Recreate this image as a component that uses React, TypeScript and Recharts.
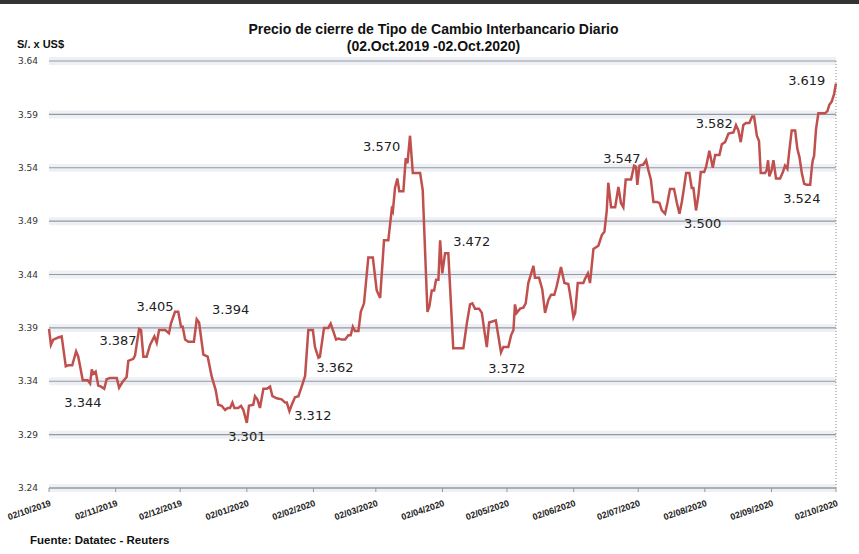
import React from 'react'
import {
  LineChart,
  Line,
  XAxis,
  YAxis,
  CartesianGrid,
  ReferenceLine,
  ReferenceDot,
} from 'recharts'

// ─── Data ────────────────────────────────────────────────────────────────────

// days counted from 02/10/2019
const days = [
  0, 0.9, 2, 4.3, 5.9, 7.8, 9, 10.8, 12.6, 13.6, 15.7, 18, 19.1, 19.9, 20.6, 21.7, 22.9, 24.2, 25.7, 26.8,
  28.4, 31.5, 32.6, 34.1, 36.1, 36.9, 39.2, 40, 41.9, 42.8, 43.9, 45.4, 47, 49, 50.1, 51.2, 54, 55.8, 56.7, 58.6,
  60.1, 61.4, 62.2, 63.3, 64.8, 67.4, 68.7, 69.8, 71.8, 73.8, 75.7, 77.5, 78.7, 80.3, 81.9, 83.1, 84.2, 85.3, 86.2, 88,
  89.3, 90.4, 92, 93, 95, 95.8, 96.9, 98.1, 99.7, 101.3, 102.8, 103.9, 105.9, 108.2, 109.8, 110.6, 111.8, 112.9, 114.4, 116,
  117.5, 119.1, 120.6, 122.7, 123.7, 125.3, 126, 127.9, 129.9, 131, 132.2, 133.5, 134.6, 136.1, 137.7, 139.2, 140.3, 141.3, 142.3, 143.9,
  145, 146.5, 148.5, 150.6, 152.4, 154, 155.8, 157.8, 159.4, 159.9, 160.9, 162, 162.9, 164.8, 165.9, 166.7, 167.9, 169.2, 172.6, 173.8,
  176, 176.9, 178, 179.1, 180, 181.1, 181.9, 182.9, 184.2, 185.7, 188, 192.7, 194.3, 195.8, 196.9, 198.1, 200, 201.3, 202.5, 203.6,
  204.7, 206.2, 207.8, 209, 210.2, 211.3, 213.6, 214.9, 216, 216.7, 217.5, 219.1, 220.6, 221.7, 222.9, 225.3, 226, 227.9, 229.4, 230.7,
  232.2, 233.5, 235, 236.1, 238.1, 239.7, 241.5, 242.3, 243.9, 244.7, 245.9, 248.5, 249.3, 250.6, 251.6, 252.1, 253.2, 255.5, 257.1, 258.3,
  259.4, 260.1, 261.4, 263.3, 264.8, 266, 267.1, 268.2, 270.7, 272.1, 273, 273.6, 274.6, 276.4, 277.7, 278.7, 279.9, 281.1, 282.7, 283.9,
  285, 286.5, 287.6, 288.8, 290.7, 292, 293.2, 294.3, 295.3, 296.3, 297.8, 298.9, 299.7, 300.9, 302, 303.1, 304.7, 305.6, 307.1, 308.7,
  309.8, 311.8, 312.9, 314.4, 316, 318.3, 319.5, 320.6, 321.7, 322.9, 324.2, 325.7, 327, 327.9, 329.2, 330.2, 331, 333, 333.8, 334.4,
  335, 336.1, 336.9, 338.1, 340, 341.3, 342.3, 343.4, 344.3, 345.4, 347, 348, 349, 350.1, 351.2, 352.4, 354, 354.8, 355.2, 355.8,
  356.7, 357.8, 359.4, 360.9, 362, 362.9, 364, 365.1, 366,
]

const rates = [
  3.389, 3.374, 3.379, 3.381, 3.382, 3.354, 3.355, 3.355, 3.368, 3.363, 3.341, 3.341, 3.338, 3.351, 3.347, 3.349, 3.336, 3.335, 3.333, 3.342,
  3.343, 3.343, 3.334, 3.339, 3.344, 3.359, 3.361, 3.364, 3.389, 3.388, 3.363, 3.363, 3.374, 3.382, 3.376, 3.388, 3.388, 3.385, 3.394, 3.405,
  3.405, 3.391, 3.391, 3.379, 3.377, 3.377, 3.398, 3.395, 3.365, 3.363, 3.344, 3.332, 3.318, 3.317, 3.313, 3.315, 3.315, 3.32, 3.315, 3.315,
  3.317, 3.313, 3.301, 3.317, 3.318, 3.326, 3.323, 3.315, 3.333, 3.333, 3.335, 3.326, 3.324, 3.323, 3.32, 3.32, 3.312, 3.318, 3.325, 3.326,
  3.335, 3.345, 3.388, 3.388, 3.372, 3.362, 3.363, 3.39, 3.39, 3.394, 3.387, 3.379, 3.38, 3.379, 3.379, 3.383, 3.383, 3.391, 3.387, 3.387,
  3.405, 3.413, 3.456, 3.456, 3.425, 3.418, 3.472, 3.472, 3.501, 3.499, 3.521, 3.53, 3.518, 3.518, 3.549, 3.544, 3.57, 3.535, 3.535, 3.519,
  3.405, 3.41, 3.425, 3.425, 3.435, 3.435, 3.472, 3.441, 3.46, 3.46, 3.371, 3.371, 3.394, 3.412, 3.413, 3.408, 3.408, 3.404, 3.387, 3.372,
  3.395, 3.396, 3.397, 3.382, 3.367, 3.372, 3.372, 3.383, 3.388, 3.412, 3.404, 3.408, 3.409, 3.413, 3.432, 3.448, 3.437, 3.437, 3.426, 3.404,
  3.416, 3.421, 3.421, 3.429, 3.447, 3.432, 3.431, 3.422, 3.4, 3.404, 3.432, 3.432, 3.436, 3.441, 3.432, 3.442, 3.464, 3.467, 3.477, 3.48,
  3.5, 3.526, 3.503, 3.503, 3.522, 3.507, 3.503, 3.529, 3.529, 3.542, 3.541, 3.524, 3.542, 3.543, 3.547, 3.538, 3.529, 3.508, 3.508, 3.507,
  3.5, 3.497, 3.507, 3.52, 3.52, 3.507, 3.497, 3.508, 3.521, 3.535, 3.535, 3.521, 3.521, 3.5, 3.514, 3.536, 3.536, 3.541, 3.556, 3.54,
  3.552, 3.552, 3.562, 3.564, 3.572, 3.573, 3.58, 3.575, 3.564, 3.58, 3.582, 3.582, 3.588, 3.588, 3.57, 3.565, 3.535, 3.535, 3.538, 3.547,
  3.532, 3.538, 3.547, 3.53, 3.53, 3.536, 3.542, 3.539, 3.556, 3.575, 3.575, 3.558, 3.55, 3.535, 3.525, 3.524, 3.524, 3.541, 3.547, 3.551,
  3.576, 3.591, 3.591, 3.591, 3.593, 3.599, 3.602, 3.609, 3.619,
]

const tickDays = [0, 31, 61, 92, 123, 152, 183, 213, 244, 274, 305, 336, 366]
const tickLabels = [
  '02/10/2019', '02/11/2019', '02/12/2019', '02/01/2020', '02/02/2020', '02/03/2020', '02/04/2020',
  '02/05/2020', '02/06/2020', '02/07/2020', '02/08/2020', '02/09/2020', '02/10/2020',
]
const yTicks = [3.24, 3.29, 3.34, 3.39, 3.44, 3.49, 3.54, 3.59, 3.64]

// callouts: text and where it sits (day, rate)
const noteText = ['3.344', '3.387', '3.405', '3.394', '3.301', '3.312', '3.362', '3.570', '3.472', '3.372', '3.547', '3.500', '3.582', '3.524', '3.619']
const noteDay = [15.8, 32.1, 49.3, 84.5, 92, 122.7, 133, 154.7, 196.6, 212.9, 266.4, 304, 309.4, 350.1, 352.4]
const noteRate = [3.32, 3.378, 3.41, 3.407, 3.288, 3.308, 3.353, 3.56, 3.471, 3.352, 3.549, 3.488, 3.582, 3.511, 3.622]

const data = days.map((d, i) => ({ day: d, rate: rates[i] }))

// ─── Ticks ───────────────────────────────────────────────────────────────────

function DateTick({ x, y, payload }: { x?: number; y?: number; payload?: { value: number } }) {
  const idx = tickDays.indexOf(payload?.value ?? -1)
  return (
    <g transform={`translate(${x},${(y ?? 0) + 4})`}>
      <text
        x={0}
        y={0}
        dy={8}
        textAnchor="end"
        transform="rotate(-19)"
        fontSize={9}
        fontWeight="bold"
        fontFamily="'Liberation Sans', Arial, sans-serif"
        fill="#222"
      >
        {tickLabels[idx]}
      </text>
    </g>
  )
}

// ─── Chart ───────────────────────────────────────────────────────────────────

export default function App() {
  return (
    <div
      style={{
        position: 'absolute',
        left: 0,
        top: 0,
        width: 859,
        height: 554,
        background: '#fff',
        overflow: 'hidden',
        fontFamily: "'Liberation Sans', Arial, sans-serif",
      }}
    >
      <div style={{ position: 'absolute', left: 0, top: 0, width: 859, height: 4, background: '#333' }} />
      <div
        style={{
          position: 'absolute',
          left: 0,
          width: 859,
          top: 21,
          textAlign: 'center',
          fontWeight: 'bold',
          fontSize: 14,
          lineHeight: '17px',
          color: '#111',
          paddingLeft: 4,
        }}
      >
        Precio de cierre de Tipo de Cambio Interbancario Diario
        <br />
        (02.Oct.2019 -02.Oct.2020)
      </div>
      <div style={{ position: 'absolute', left: 17, top: 38, fontWeight: 'bold', fontSize: 11, color: '#111' }}>
        S/. x US$
      </div>
      <div style={{ position: 'absolute', left: 30, top: 534, fontWeight: 'bold', fontSize: 11.5, color: '#111' }}>
        Fuente: Datatec - Reuters
      </div>

      <div style={{ position: 'absolute', left: 0, top: 0 }}>
        <LineChart width={859} height={554} data={data} margin={{ top: 61, right: 23, bottom: 26, left: 9 }}>
          <CartesianGrid vertical={false} stroke="#edf0f6" strokeWidth={8} />
          <CartesianGrid vertical={false} stroke="#999" strokeWidth={1.2} />
          <XAxis
            type="number"
            dataKey="day"
            domain={[0, 366]}
            ticks={tickDays}
            interval={0}
            height={40}
            stroke="#999"
            tickSize={4}
            tick={<DateTick />}
          />
          <YAxis
            type="number"
            domain={[3.24, 3.64]}
            ticks={yTicks}
            width={40}
            axisLine={false}
            tickLine={false}
            tickSize={0}
            tickMargin={11}
            tickFormatter={(v: number) => v.toFixed(2)}
            tick={{ fontSize: 9, fill: '#333', fontFamily: "'DejaVu Sans', sans-serif" }}
          />
          <ReferenceLine x={366} stroke="#888" strokeDasharray="1 2" />
          <Line
            type="linear"
            dataKey="rate"
            stroke="#C0504D"
            strokeWidth={2.5}
            dot={false}
            isAnimationActive={false}
          />
          {noteText.map((t, i) => (
            <ReferenceDot
              key={t}
              x={noteDay[i]}
              y={noteRate[i]}
              r={0}
              fill="none"
              stroke="none"
              label={{
                value: t,
                position: 'center',
                fill: '#222',
                fontSize: 13,
                fontFamily: "'DejaVu Sans', sans-serif",
              }}
            />
          ))}
        </LineChart>
      </div>
    </div>
  )
}
